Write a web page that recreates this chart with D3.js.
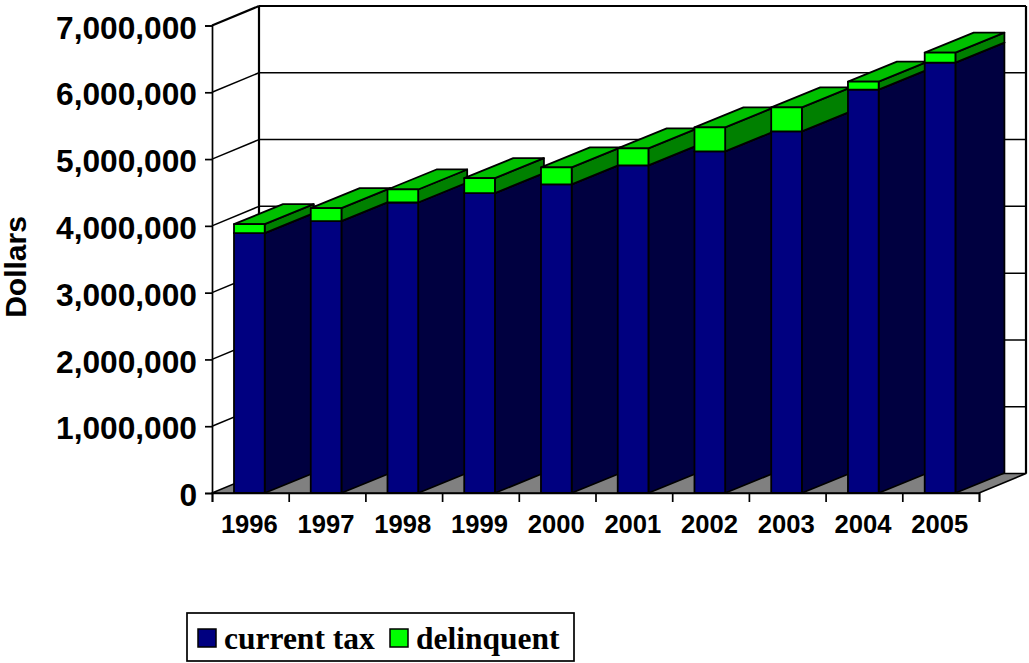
<!DOCTYPE html>
<html><head><meta charset="utf-8">
<script src="https://cdn.jsdelivr.net/npm/d3@7/dist/d3.min.js"></script>
<style>html,body{margin:0;padding:0;background:#fff}svg{display:block}</style>
</head><body><svg id="c" width="1029" height="663"></svg>
<script>
const years = ["1996","1997","1998","1999","2000","2001","2002","2003","2004","2005"];
const currentTax = [3890000,4070000,4350000,4490000,4620000,4905000,5115000,5415000,6040000,6445000];
const delinquent = [135000,195000,195000,225000,255000,255000,360000,360000,120000,150000];
const seriesNames = ["current tax","delinquent"];
const yTicks = [0,1000000,2000000,3000000,4000000,5000000,6000000,7000000];

const svg = d3.select("#c");
const y = d3.scaleLinear().domain([0,7000000]).range([493,25.5]);
const x = d3.scaleBand().domain(years).range([234,955.4]).paddingInner(0.6).paddingOuter(0);
const edge = d3.scaleLinear().domain([0,years.length]).range([212,979]);
const wall = {dx:47,dy:-19.5}, bar = {dx:49,dy:-20};
const ink = "#000";
const line = d3.line();
const poly = (pts,fill,sw=1.8)=>svg.append("path").attr("d",line(pts)+"Z").attr("fill",fill).attr("stroke",ink).attr("stroke-width",sw).attr("stroke-linejoin","round");
const seg = (x1,y1,x2,y2,sw=1.5)=>svg.append("line").attr("x1",x1).attr("y1",y1).attr("x2",x2).attr("y2",y2).attr("stroke",ink).attr("stroke-width",sw);

// floor
poly([[212,y(0)],[979,y(0)],[979+wall.dx,y(0)+wall.dy],[212+wall.dx,y(0)+wall.dy]],"#808080",1.5);
// walls and gridlines
yTicks.forEach(t=>{
  if(t>0){
    seg(212,y(t),212+wall.dx,y(t)+wall.dy,t===7000000?2.2:1.5);
    seg(212+wall.dx,y(t)+wall.dy,979+wall.dx,y(t)+wall.dy,t===7000000?2.2:1.5);
  }
});
seg(212+wall.dx,y(7000000)+wall.dy,212+wall.dx,y(0)+wall.dy,2.2);
seg(979+wall.dx,y(7000000)+wall.dy,979+wall.dx,y(0)+wall.dy,2.2);

// 3D stacked bars
function box(x0,w,yb,yt,front,side,top){
  poly([[x0+w,yb],[x0+w+bar.dx,yb+bar.dy],[x0+w+bar.dx,yt+bar.dy],[x0+w,yt]],side);
  poly([[x0,yt],[x0+w,yt],[x0+w+bar.dx,yt+bar.dy],[x0+bar.dx,yt+bar.dy]],top);
  poly([[x0,yb],[x0+w,yb],[x0+w,yt],[x0,yt]],front);
}
years.forEach((yr,i)=>{
  const x0=x(yr), w=x.bandwidth();
  box(x0,w,y(0),y(currentTax[i]),"#000080","#000040","#000060");
  box(x0,w,y(currentTax[i]),y(currentTax[i]+delinquent[i]),"#00ff00","#008000","#00c000");
});

// axes
const font='"Liberation Sans",Arial,sans-serif';
const ay = svg.append("g").attr("transform","translate(212,0)")
  .call(d3.axisLeft(y).tickValues(yTicks).tickFormat(d3.format(",")).tickSize(7).tickPadding(8));
ay.selectAll("text").attr("font-family",font).attr("font-weight","700").attr("font-size",31.7).attr("fill",ink).attr("dy","0.4em");
ay.selectAll("line,path").attr("stroke",ink).attr("stroke-width",1.7);

const at = svg.append("g").attr("transform","translate(0,493)")
  .call(d3.axisBottom(edge).tickValues(d3.range(years.length+1)).tickFormat("").tickSize(9));
at.selectAll("line,path").attr("stroke",ink).attr("stroke-width",1.7);
const al = svg.append("g").attr("transform","translate(-1,493)")
  .call(d3.axisBottom(d3.scaleBand().domain(years).range([212,979])).tickSize(0).tickPadding(22));
al.select("path").remove();
al.selectAll("text").attr("font-family",font).attr("font-weight","700").attr("font-size",25.6).attr("fill",ink);

svg.append("text").attr("transform","translate(26,267) rotate(-90)").attr("text-anchor","middle")
  .attr("font-family",font).attr("font-weight","700").attr("font-size",30).attr("fill",ink).text("Dollars");

// legend
svg.append("rect").attr("x",187).attr("y",613).attr("width",387).attr("height",48).attr("fill","#fff").attr("stroke",ink).attr("stroke-width",1.7);
const lg=[{x:198,c:"#000080",tx:224},{x:390,c:"#00ff00",tx:416}];
lg.forEach((d,i)=>{
  svg.append("rect").attr("x",d.x).attr("y",629).attr("width",18).attr("height",18).attr("fill",d.c).attr("stroke",ink).attr("stroke-width",1.5);
  svg.append("text").attr("x",d.tx).attr("y",649).attr("font-family",'"Liberation Serif","Times New Roman",serif').attr("font-weight","700").attr("font-size",31.5).attr("fill",ink).text(seriesNames[i]);
});
</script></body></html>
